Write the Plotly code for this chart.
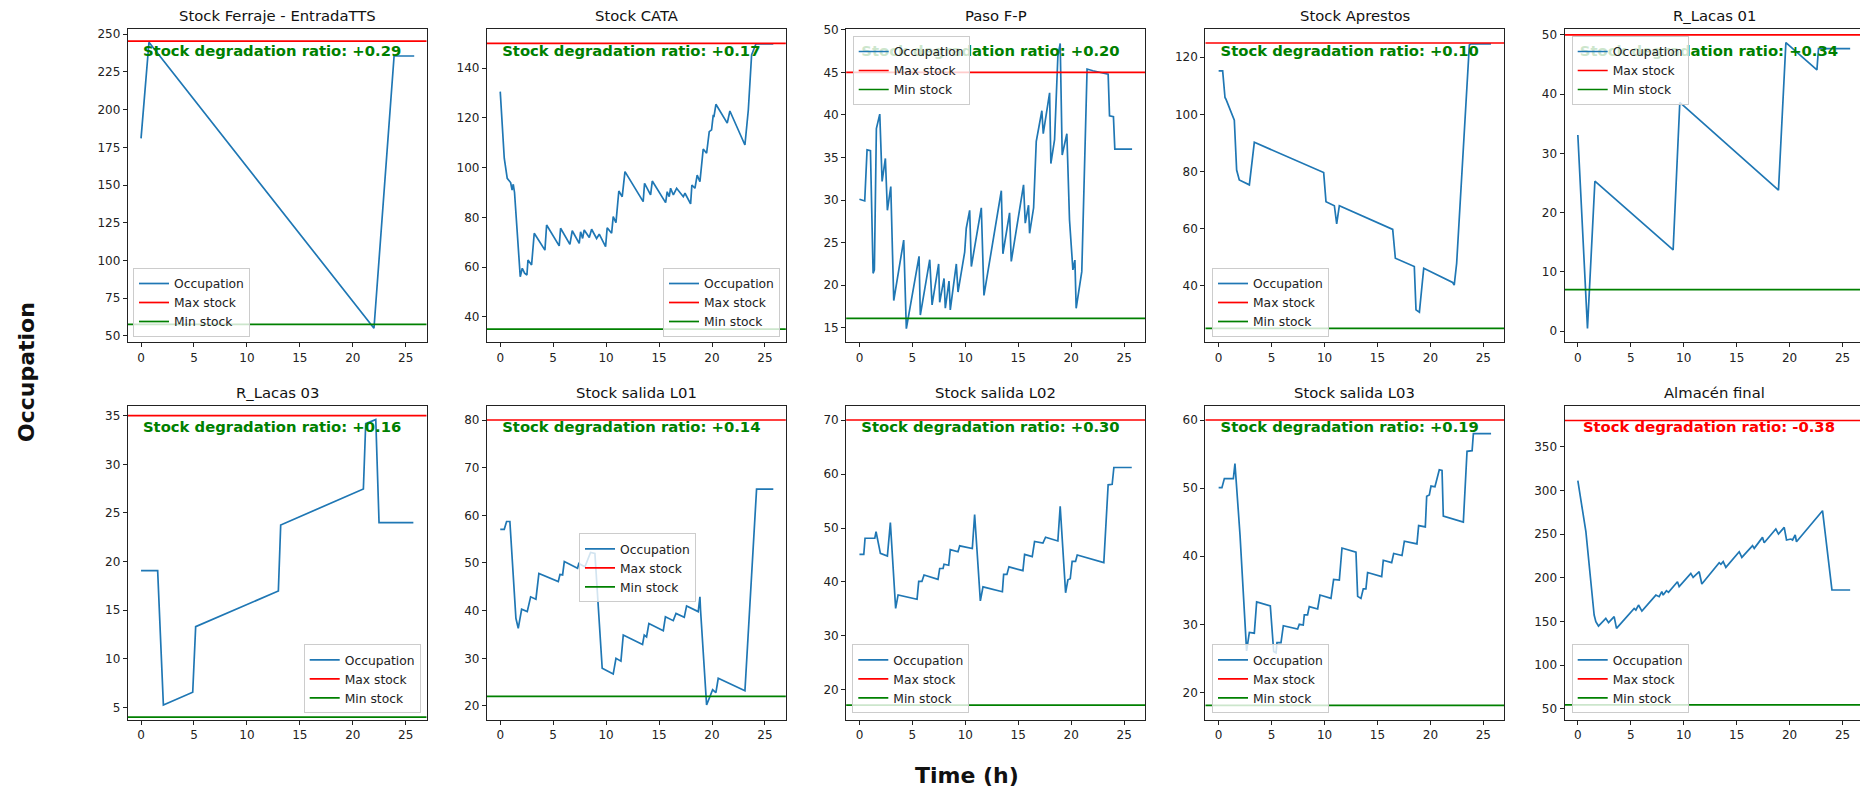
import plotly.graph_objects as go

# ---------------- data ----------------
titles = ["Stock Ferraje - EntradaTTS", "Stock CATA", "Paso F-P", "Stock Aprestos", "R_Lacas 01",
          "R_Lacas 03", "Stock salida L01", "Stock salida L02", "Stock salida L03", "Almacén final"]
max_stock = [245.5, 150, 45, 125, 50, 35, 80, 70, 60, 380]
min_stock = [57.7, 35, 16.1, 25, 7, 4, 22, 17.2, 18.1, 54.6]
ratio_labels = ["+0.29", "+0.17", "+0.20", "+0.10", "+0.34", "+0.16", "+0.14", "+0.30", "+0.19", "-0.38"]
y_ranges = [(45.8, 253.5), (29.7, 155.8), (13.3, 50.1), (20.15, 129.9), (-1.9, 51.0),
            (3.70, 36.03), (17.06, 83.0), (14.44, 72.65), (15.95, 62.1), (37.4, 396.9)]
y_dticks = [25, 20, 5, 20, 10, 5, 10, 10, 10, 50]
x_tick_step = 5

t_ferraje = [0, 0.75, 22.0, 23.9, 25.8]
occ_ferraje = [181, 244.7, 55.1, 235.6, 235.6]

t_cata = [0, 0.38, 0.66, 0.98, 1.12, 1.23, 1.35, 1.89, 2.08, 2.3, 2.52, 2.62, 2.96, 3.21, 4.22, 4.38,
          5.57, 5.70, 6.58, 6.80, 7.46, 7.59, 7.78, 7.93, 8.41, 8.63, 9.10, 9.35, 9.95, 10.10, 10.52,
          10.67, 10.93, 11.20, 11.52, 11.78, 13.50, 13.63, 14.20, 14.36, 15.62, 15.77, 15.96, 16.09,
          16.35, 16.66, 17.29, 17.45, 17.98, 18.10, 18.39, 18.60, 18.86, 19.17, 19.49, 19.74, 19.96,
          20.12, 20.18, 20.37, 21.44, 21.69, 23.11, 23.43, 23.74, 24.15, 25.79]
occ_cata = [130.6, 103.8, 95.7, 94, 91, 93.3, 90, 56.1, 59.5, 57.5, 56.8, 62.8, 60.8, 73.6, 66.8, 76.9,
            68.5, 75.6, 69.1, 74.6, 69.5, 74.2, 71.5, 74.9, 71.9, 75.2, 71.5, 73.2, 68.2, 75.8, 73.6,
            80.3, 77.9, 90.6, 88.3, 98.4, 86.3, 93.7, 89.0, 94.6, 85.9, 90.3, 88.3, 91.7,
            89.0, 91.7, 88.3, 89.7, 85.4, 93.0, 91.7, 97.0, 94.4, 107.5, 105.8, 114.5, 115.2,
            121.2, 120.3, 125.5, 117.9, 122.8, 109.1, 123.2, 145.4, 149.8, 149.8]

t_paso = [0, 0.5, 0.72, 1.04, 1.29, 1.41, 1.6, 1.92, 2.14, 2.45, 2.64, 2.96, 3.24, 4.18, 4.43, 5.63,
          5.75, 6.64, 6.86, 7.48, 7.58, 7.99, 8.11, 8.46, 8.58, 9.15, 9.31, 9.78, 9.94, 10.09, 10.41,
          10.57, 11.51, 11.76, 13.4, 13.55, 14.18, 14.34, 15.5, 15.66, 15.97, 16.07, 16.45, 16.7,
          17.23, 17.36, 17.96, 18.08, 18.43, 18.74, 18.96, 19.15, 19.59, 19.84, 20.16, 20.35, 20.47,
          21.0, 21.5, 22.04, 23.49, 23.62, 23.99, 24.12, 25.75]
occ_paso = [30.1, 29.9, 35.9, 35.8, 21.4, 21.8, 38.4, 40.1, 32.2, 34.9, 28.8, 31.6, 18.2, 25.3, 14.9, 23.4,
            16.5, 23.0, 17.7, 22.5, 18.0, 20.8, 17.3, 20.5, 17.1, 22.5, 19.2, 23.0, 23.9, 26.7, 28.8,
            22.2, 29.1, 18.8, 31.1, 23.7, 28.5, 22.8, 31.8, 27.3, 29.4, 26.1, 29.1, 36.9,
            40.5, 37.8, 42.6, 34.3, 37.1, 46.9, 48.4, 35.3, 37.8, 27.7, 21.8, 22.95, 17.3,
            21.6, 45.4, 45.2, 44.8, 39.9, 39.8, 36.0, 36.0]

t_apresto = [0, 0.38, 0.6, 0.69, 1.48, 1.7, 1.95, 2.9, 3.37, 9.92, 10.14, 10.93, 11.15, 11.4, 16.44,
             16.69, 18.48, 18.64, 18.96, 19.37, 22.1, 22.25, 22.48, 23.68, 23.84, 25.72]
occ_apresto = [115.2, 115.2, 105.9, 105.3, 98.0, 80.5, 77.0, 75.3, 90.2, 79.6, 69.4, 68.0, 61.6, 68.0, 59.7,
               49.6, 46.7, 31.5, 30.7, 46.1, 41.1, 40.2, 47.8, 124.3, 124.7, 124.7]

t_lacas01 = [0, 0.91, 1.61, 9.0, 9.63, 18.95, 19.65, 22.58, 22.73, 25.72]
occ_lacas01 = [33.1, 0.45, 25.3, 13.7, 38.6, 23.8, 48.7, 44.1, 47.7, 47.7]

t_lacas03 = [0, 1.57, 2.11, 4.88, 5.16, 12.97, 13.19, 21.0, 21.22, 22.17, 22.48, 25.72]
occ_lacas03 = [19.06, 19.06, 5.24, 6.55, 13.3, 16.97, 23.76, 27.46, 34.2, 34.6, 24.0, 24.0]

t_l01 = [0, 0.38, 0.6, 0.91, 1.48, 1.7, 2.02, 2.55, 2.87, 3.37, 3.65, 5.48, 5.64, 5.89, 6.05, 7.3, 7.42,
         8.0, 8.53, 8.94, 9.63, 10.67, 10.93, 11.4, 11.62, 13.44, 13.6, 13.82, 14.04, 15.4, 15.6,
         16.34, 16.6, 17.38, 17.6, 18.7, 18.86, 18.92, 19.49, 19.74, 20.06, 20.37, 20.59, 23.11,
         24.21, 25.79]
occ_l01 = [57.06, 57.06, 58.7, 58.7, 38.4, 36.3, 40.3, 39.8, 42.9, 42.4, 47.8, 46.1, 47.6, 47.5, 50.3, 48.9, 49.9,
           49.2, 52.2, 52.0, 27.9, 26.7, 30.0, 29.4, 34.9, 32.9, 34.9, 34.5, 37.3, 35.8, 38.7,
           37.9, 39.4, 38.6, 41.0, 39.8, 42.9, 40.1, 20.2, 21.8, 23.4, 22.8, 25.8, 23.2,
           65.5, 65.5]

t_l02 = [0, 0.41, 0.53, 1.45, 1.57, 1.7, 1.98, 2.64, 2.92, 3.42, 3.65, 5.44, 5.6, 5.9, 6.1, 7.42, 7.58,
         7.9, 7.99, 8.43, 8.58, 9.31, 9.47, 10.66, 10.88, 11.42, 11.67, 13.5, 13.62, 13.93, 14.12,
         15.44, 15.6, 16.32, 16.54, 17.33, 17.58, 18.74, 18.96, 19.47, 19.69, 19.91, 20.09, 20.41,
         20.57, 23.08, 23.49, 23.87, 24.03, 25.72]
occ_l02 = [45.1, 45.1, 48.1, 48.1, 49.3, 48.1, 45.3, 44.8, 51.0, 35.1, 37.6, 36.8, 40.1, 40.1, 41.3, 40.5, 42.5,
           42.5, 43.3, 43.1, 46.0, 45.6, 46.7, 46.2, 52.5, 36.5, 39.1, 38.2, 41.4, 41.4, 42.8,
           42.1, 45.1, 44.7, 47.5, 47.2, 48.3, 47.6, 54.0, 38.0, 40.4, 40.6, 43.8, 43.8,
           45.0, 43.6, 58.0, 58.1, 61.2, 61.2]

t_l03 = [0, 0.31, 0.54, 1.39, 1.54, 1.64, 2.02, 2.64, 2.9, 3.37, 3.59, 4.88, 5.2, 5.42, 5.51, 5.89, 6.11,
         7.46, 7.62, 7.99, 8.09, 8.4, 8.56, 9.35, 9.57, 10.61, 10.86, 11.4, 11.65, 12.97, 13.13,
         13.44, 13.66, 13.91, 14.07, 15.4, 15.55, 16.34, 16.53, 17.32, 17.54, 18.73, 18.89, 19.52,
         19.65, 19.9, 20.06, 20.43, 20.84, 21.1, 21.22, 23.11, 23.46, 23.94, 24.06, 25.73]
occ_l03 = [50.06, 50.06, 51.4, 51.4, 53.6, 51.7, 43.1, 26.1, 28.8, 28.7, 33.3, 32.7, 26.0, 25.8, 27.3, 27.3, 29.8,
           29.3, 30.0, 29.9, 31.4, 31.4, 32.6, 32.25, 34.3, 33.8, 36.6, 36.5, 41.2, 40.6, 34.1,
           33.8, 35.2, 35.2, 37.6, 37.0, 39.4, 39.05, 40.4, 40.1, 42.2, 41.8, 44.5, 44.3,
           48.8, 49.0, 50.3, 50.2, 52.7, 52.6, 45.9, 45.0, 55.4, 55.5, 58.0, 58.0]

t_almacen = [0, 0.76, 1.54, 1.7, 1.95, 2.64, 2.9, 3.43, 3.65, 5.32, 5.48, 5.73, 6.05, 7.37, 7.68, 7.93,
             8.06, 8.37, 8.56, 9.41, 9.57, 10.67, 10.89, 11.46, 11.71, 13.35, 13.51, 13.73, 13.98,
             15.24, 15.49, 16.5, 16.66, 17.44, 17.6, 18.7, 18.95, 19.49, 19.71, 20.12, 20.28, 20.53,
             20.65, 23.11, 24.0, 25.72]
occ_almacen = [311.1, 252.8, 157.5, 149.9, 144.9, 153.7, 148.7, 155.6, 142.2, 165.1, 163.2, 168.9, 162.0, 180.3,
               178.4, 184.2, 180.3, 185.3, 183.4, 195.6, 189.9, 205.1, 200.6, 207.0, 192.9, 217.3, 215.4,
               218.5, 212.0, 229.9, 223.4, 236.8, 233.7, 246.3, 240.2, 255.8, 250.1, 257.7, 243.3,
               244.4, 243.3, 249.0, 241.3, 276.8, 186.1, 186.1]

series_t = [t_ferraje, t_cata, t_paso, t_apresto, t_lacas01, t_lacas03, t_l01, t_l02, t_l03, t_almacen]
series_v = [occ_ferraje, occ_cata, occ_paso, occ_apresto, occ_lacas01, occ_lacas03, occ_l01, occ_l02,
            occ_l03, occ_almacen]

# ---------------- layout geometry (pixels) ----------------
FIG_W, FIG_H = 1860, 789
col_left = [127.7, 486.9, 846.1, 1205.3, 1564.5]
ax_w = 299.0
row_top = [29.0, 405.7]
row_bot = [342.3, 720.0]
x_rng = (-1.26, 26.98)

# legend placement: (x px, y px, xanchor, yanchor)
legend_pos = [(133, 337, "left", "bottom"), (780, 337, "right", "bottom"), (852.7, 36, "left", "top"),
              (1212, 337, "left", "bottom"), (1571.7, 36, "left", "top"),
              (420.7, 713.3, "right", "bottom"), (579, 533.3, "left", "top"), (852.3, 713.3, "left", "bottom"),
              (1212, 713.3, "left", "bottom"), (1571.7, 713.3, "left", "bottom")]

FONT = "DejaVu Sans"
BLUE, RED, GREEN = "#1f77b4", "#ff0000", "#008000"
LW = 1.7
TITLE_SIZE = 14.8
RATIO_SIZE = 14.8
TICK_SIZE = 12
LEGEND_SIZE = 12.3


def px_x(p):
    return p / FIG_W


def px_y(p):
    return 1 - p / FIG_H


fig = go.Figure()
layout = dict(width=FIG_W, height=FIG_H, margin=dict(l=0, r=0, t=0, b=0, autoexpand=False),
              paper_bgcolor="white", plot_bgcolor="white", font=dict(family=FONT, color="#222"),
              annotations=[])

for i in range(10):
    r, c = divmod(i, 5)
    L = col_left[c]
    R = min(L + ax_w, FIG_W)
    full_span = x_rng[1] - x_rng[0]
    x_hi = x_rng[0] + full_span * (R - L) / ax_w
    T, B = row_top[r], row_bot[r]
    sfx = "" if i == 0 else str(i + 1)
    xname, yname = "x" + sfx, "y" + sfx
    lname = "legend" + sfx
    yr = y_ranges[i]
    cut = R < L + ax_w

    layout["xaxis" + sfx] = dict(domain=[px_x(L), px_x(R)], anchor=yname, range=[x_rng[0], x_hi],
                                 tick0=0, dtick=x_tick_step, ticks="outside", ticklen=4, tickwidth=1,
                                 tickcolor="#222", showline=True, linecolor="#222", linewidth=1, mirror=True,
                                 showgrid=False, zeroline=False,
                                 tickfont=dict(family=FONT, size=TICK_SIZE, color="#222"))
    layout["yaxis" + sfx] = dict(domain=[px_y(B), px_y(T)], anchor=xname, range=list(yr),
                                 tick0=0, dtick=y_dticks[i], ticks="outside", ticklen=4, tickwidth=1,
                                 tickcolor="#222", showline=True, linecolor="#222", linewidth=1,
                                 mirror=(not cut), showgrid=False, zeroline=False,
                                 tickfont=dict(family=FONT, size=TICK_SIZE, color="#222"))
    lx, ly, xa, ya = legend_pos[i]
    layout[lname] = dict(x=px_x(lx), y=px_y(ly), xanchor=xa, yanchor=ya, bgcolor="rgba(255,255,255,0.8)",
                         bordercolor="#cccccc", borderwidth=1,
                         font=dict(family=FONT, size=LEGEND_SIZE, color="#222"),
                         itemwidth=30, tracegroupgap=0)

    fig.add_trace(go.Scatter(x=series_t[i], y=series_v[i], mode="lines", name="Occupation",
                             line=dict(color=BLUE, width=LW), xaxis=xname, yaxis=yname, legend=lname))
    fig.add_trace(go.Scatter(x=[x_rng[0], x_hi], y=[max_stock[i]] * 2, mode="lines", name="Max stock",
                             line=dict(color=RED, width=LW), xaxis=xname, yaxis=yname, legend=lname))
    fig.add_trace(go.Scatter(x=[x_rng[0], x_hi], y=[min_stock[i]] * 2, mode="lines", name="Min stock",
                             line=dict(color=GREEN, width=LW), xaxis=xname, yaxis=yname, legend=lname))
    # ratio text (inside the plot layer so legends sit above it)
    tx = x_rng[0] + 0.483 * full_span
    ty = yr[0] + 0.927 * (yr[1] - yr[0])
    col = RED if ratio_labels[i].startswith("-") else GREEN
    fig.add_trace(go.Scatter(x=[tx], y=[ty], mode="text",
                             text=["<b>Stock degradation ratio: %s</b>" % ratio_labels[i]],
                             textposition="middle center", textfont=dict(family=FONT, size=RATIO_SIZE, color=col),
                             showlegend=False, hoverinfo="skip", cliponaxis=False, xaxis=xname, yaxis=yname))
    # subplot title
    layout["annotations"].append(dict(text=titles[i], x=px_x(L + ax_w / 2), y=px_y(T - 3), xref="paper",
                                      yref="paper", xanchor="center", yanchor="bottom", showarrow=False,
                                      font=dict(family=FONT, size=TITLE_SIZE, color="#111")))

layout["annotations"].append(dict(text="<b>Occupation</b>", x=px_x(26), y=px_y(372), xref="paper", yref="paper",
                                  xanchor="center", yanchor="middle", showarrow=False, textangle=-90,
                                  font=dict(family=FONT, size=22, color="#111")))
layout["annotations"].append(dict(text="<b>Time (h)</b>", x=px_x(966.5), y=px_y(775), xref="paper", yref="paper",
                                  xanchor="center", yanchor="middle", showarrow=False,
                                  font=dict(family=FONT, size=22, color="#111")))

fig.update_layout(**layout)
fig.write_html("out.html", config={"displayModeBar": False},
               post_script="document.body.style.margin='0';document.body.style.overflow='hidden';")
